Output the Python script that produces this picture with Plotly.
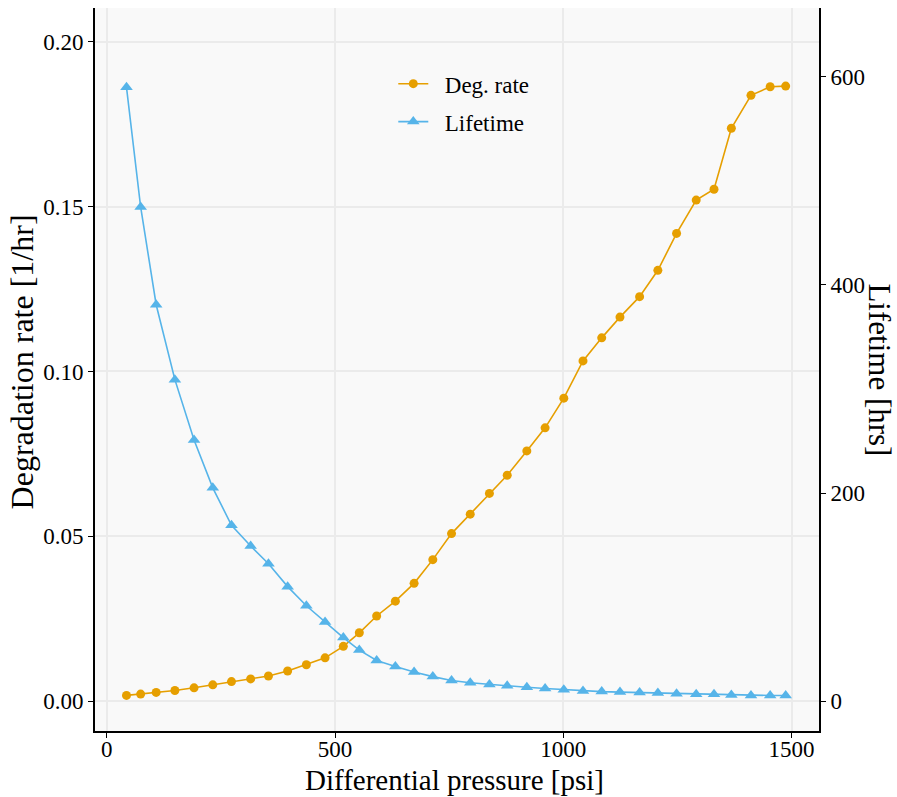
import plotly.graph_objects as go

pressure = [43, 74, 108, 149, 191, 232, 273, 315, 354, 396, 437, 478, 518,
            553, 591, 632, 673, 714, 755, 796, 838, 877, 920, 960, 1001, 1043,
            1084, 1124, 1167, 1207, 1248, 1291, 1330, 1368, 1411, 1453, 1487]
deg_rate = [0.0017, 0.0021, 0.0026, 0.0032, 0.0040, 0.0049, 0.0059, 0.0067,
            0.0076, 0.0091, 0.0110, 0.0131, 0.0166, 0.0207, 0.0258, 0.0303,
            0.0357, 0.0429, 0.0508, 0.0567, 0.0630, 0.0685, 0.0759, 0.0829,
            0.0919, 0.1032, 0.1102, 0.1165, 0.1227, 0.1307, 0.1419, 0.1520,
            0.1553, 0.1738, 0.1838, 0.1864, 0.1866]
lifetime = [590, 475, 381, 309, 251, 205, 169, 149, 132, 110, 91.6, 76, 61,
            49, 39, 33.3, 28, 23.5, 19.7, 17.6, 15.9, 14.6, 13.2, 12.1, 10.9,
            9.7, 9.1, 8.6, 8.15, 7.65, 7.05, 6.6, 6.45, 5.75, 5.45, 5.35, 5.35]
series_names = ["Deg. rate", "Lifetime"]

x_ticks = [0, 500, 1000, 1500]
left_ticks = [0.00, 0.05, 0.10, 0.15, 0.20]
right_ticks = [0, 200, 400, 600]

FONT = "Liberation Serif"
ORANGE = "#E69F00"
BLUE = "#56B4E9"
PAD = "\u2002"  # small gap between legend symbol and label

fig = go.Figure()
fig.add_trace(go.Scatter(
    x=pressure, y=deg_rate, name=PAD + series_names[0], mode="lines+markers",
    line=dict(color=ORANGE, width=1.6),
    marker=dict(symbol="circle", size=9, color=ORANGE),
    legendgroup="a", yaxis="y"))
fig.add_trace(go.Scatter(
    x=pressure, y=lifetime, name=PAD + series_names[1], mode="lines+markers",
    line=dict(color=BLUE, width=1.6),
    marker=dict(symbol="triangle-up", size=11, color=BLUE),
    legendgroup="b", yaxis="y2"))

axis_common = dict(
    showline=True, linecolor="black", linewidth=1.6,
    ticks="outside", ticklen=5, tickwidth=1.2, tickcolor="black",
    tickfont=dict(family=FONT, size=23, color="black"),
    zeroline=False,
)

fig.update_layout(
    width=897, height=797,
    margin=dict(l=95, r=78, t=8, b=66),
    paper_bgcolor="white", plot_bgcolor="#f9f9f9",
    font=dict(family=FONT, color="black"),
    showlegend=True,
    legend=dict(x=0.412, y=0.925, xanchor="left", yanchor="top",
                bgcolor="rgba(0,0,0,0)", borderwidth=0,
                font=dict(family=FONT, size=23, color="black"),
                tracegroupgap=5),
    xaxis=dict(range=[-26, 1560], tickvals=x_ticks,
               ticktext=[str(v) for v in x_ticks],
               showgrid=True, gridcolor="#ebebeb", gridwidth=2,
               ticklabelstandoff=-8,
               **axis_common),
    yaxis=dict(range=[-0.0091, 0.2103], tickvals=left_ticks,
               ticktext=[f"{v:.2f}" for v in left_ticks],
               showgrid=True, gridcolor="#ebebeb", gridwidth=2,
               **axis_common),
    yaxis2=dict(range=[-28.8, 666.3], tickvals=right_ticks,
                ticktext=[str(v) for v in right_ticks],
                overlaying="y", side="right", showgrid=False,
                **axis_common),
    annotations=[
        dict(text="Differential pressure [psi]", xref="paper", yref="paper",
             x=0.497, y=-0.068, xanchor="center", yanchor="middle",
             showarrow=False, font=dict(family=FONT, size=29, color="black")),
        dict(text="Degradation rate [1/hr]", xref="paper", yref="paper",
             x=-0.101, y=0.511, xanchor="center", yanchor="middle",
             textangle=-90, showarrow=False,
             font=dict(family=FONT, size=32, color="black")),
        dict(text="Lifetime [hrs]", xref="paper", yref="paper",
             x=1.083, y=0.5, xanchor="center", yanchor="middle",
             textangle=90, showarrow=False,
             font=dict(family=FONT, size=31, color="black")),
    ],
)

fig.write_html("out.html")
